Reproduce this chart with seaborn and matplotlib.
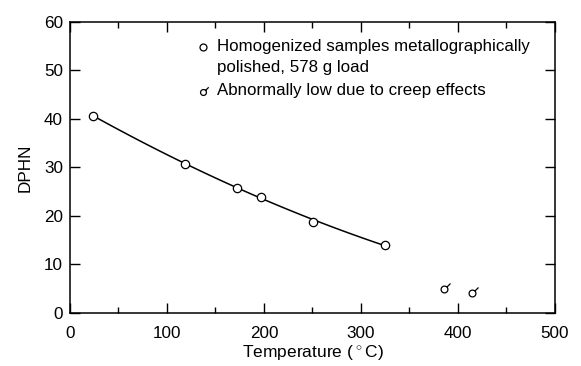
import numpy as np
import pandas as pd
import matplotlib
matplotlib.use("Agg")
import matplotlib.pyplot as plt
from matplotlib.path import Path
import seaborn as sns

# Data
temp_homog = [24, 119, 172, 197, 251, 325]
dphn_homog = [40.6, 30.8, 25.8, 24.0, 18.8, 14.0]
temp_creep = [386, 415]
dphn_creep = [5.0, 4.1]

legend_line1 = "Homogenized samples metallographically"
legend_line2 = "polished, 578 g load"
legend_line3 = "Abnormally low due to creep effects"

sns.set_theme(style="ticks")
plt.rcParams['font.family'] = ['Liberation Sans', 'DejaVu Sans']
plt.rcParams['mathtext.fontset'] = 'custom'
plt.rcParams['mathtext.rm'] = 'Liberation Sans'
plt.rcParams['text.color'] = 'black'
plt.rcParams['axes.labelcolor'] = 'black'

# custom marker: circle with a short tail toward upper right
theta = np.linspace(0, 2 * np.pi, 40)
circ = np.column_stack([np.cos(theta), np.sin(theta)])
ang = np.deg2rad(45)
p0 = (np.cos(ang), np.sin(ang))
p1 = (np.cos(ang) * 2.5, np.sin(ang) * 2.5)
verts = list(circ) + [p0, p1]
codes = [Path.MOVETO] + [Path.LINETO] * (len(circ) - 2) + [Path.CLOSEPOLY] + [Path.MOVETO, Path.LINETO]
creep_marker = Path(verts, codes)

df_h = pd.DataFrame({"T": temp_homog, "H": dphn_homog})
df_c = pd.DataFrame({"T": temp_creep, "H": dphn_creep})

fig = plt.figure(figsize=(5.81, 3.66), dpi=100)
ax = fig.add_axes([0.1205, 0.1448, 0.8345, 0.7952])

sns.regplot(data=df_h, x="T", y="H", order=2, ci=None, scatter=False,
            line_kws=dict(color="black", lw=1.1), ax=ax)
sns.scatterplot(data=df_h, x="T", y="H", marker="o", s=36, facecolor="white",
                edgecolor="black", linewidth=0.9, ax=ax, zorder=3)
ax.scatter(df_c["T"], df_c["H"], marker=creep_marker, s=75, facecolor="white",
           edgecolor="black", linewidths=0.9, zorder=3)

ax.set_xlim(0, 500)
ax.set_ylim(0, 60)
ax.set_xticks(np.arange(0, 501, 100))
ax.set_xticks(np.arange(50, 500, 100), minor=True)
ax.set_yticks(np.arange(0, 61, 10))
ax.tick_params(axis="both", which="both", direction="in", top=True, right=True,
               labelsize=12.3, width=1, color="black", labelcolor="black")
ax.tick_params(axis="x", which="major", length=7, pad=9)
ax.tick_params(axis="x", which="minor", length=4)
ax.tick_params(axis="y", which="major", length=7, pad=5)
for s in ax.spines.values():
    s.set_linewidth(1.1)
    s.set_color("black")

ax.set_xlabel("Temperature ($\\,^{\\circ}\\,$C)", fontsize=12.5, color="black", labelpad=2)
ax.set_ylabel("DPHN", fontsize=12.3, color="black", labelpad=8)

# legend drawn as key text
fs = 12.2
ax.plot([0.274], [0.914], ls="none", marker="o", markersize=5, markerfacecolor="white",
        markeredgecolor="black", markeredgewidth=0.9, transform=ax.transAxes, clip_on=False)
ax.plot([0.274], [0.760], ls="none", marker=creep_marker, markersize=7.5, markerfacecolor="white",
        markeredgecolor="black", markeredgewidth=0.9, transform=ax.transAxes, clip_on=False)
ax.text(0.303, 0.914, legend_line1, fontsize=fs, va="center", ha="left", transform=ax.transAxes)
ax.text(0.303, 0.842, legend_line2, fontsize=fs, va="center", ha="left", transform=ax.transAxes)
ax.text(0.303, 0.763, legend_line3, fontsize=fs, va="center", ha="left", transform=ax.transAxes)

fig.savefig("out.png", dpi=100)
